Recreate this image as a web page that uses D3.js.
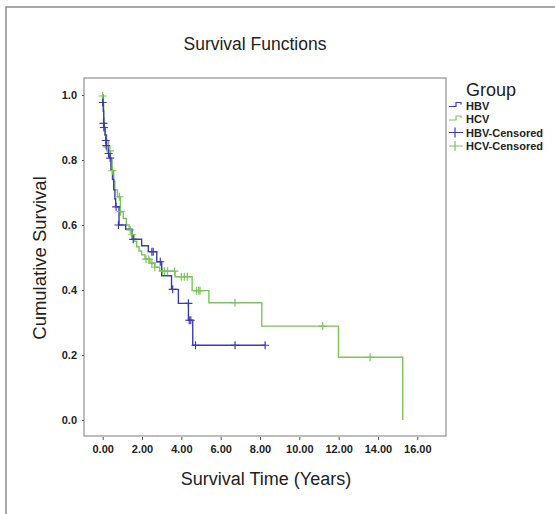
<!DOCTYPE html>
<html>
<head>
<meta charset="utf-8">
<script src="https://cdn.jsdelivr.net/npm/d3@7"></script>
<style>
  body { margin: 0; background: #fff; }
  svg { display: block; font-family: "Liberation Sans", Arial, Helvetica, sans-serif; }
</style>
</head>
<body>
<div></div>
<script>
// Kaplan-Meier step points: [time (years), cumulative survival after the drop]
var hbvSteps = [
  [0, 1.0], [0.01, 0.977], [0.03, 0.95], [0.05, 0.913], [0.08, 0.90], [0.12, 0.877],
  [0.17, 0.86], [0.2, 0.844], [0.28, 0.82], [0.35, 0.806], [0.42, 0.77], [0.5, 0.74],
  [0.56, 0.708], [0.62, 0.68], [0.66, 0.656], [0.83, 0.60], [1.17, 0.587], [1.5, 0.556],
  [1.98, 0.536], [2.32, 0.518], [2.75, 0.487], [3.0, 0.444], [3.5, 0.402], [3.85, 0.359],
  [4.36, 0.307], [4.58, 0.23], [8.26, 0.23]
];
var hcvSteps = [
  [0, 1.0], [0.02, 0.97], [0.05, 0.93], [0.08, 0.894], [0.12, 0.877], [0.2, 0.86],
  [0.3, 0.828], [0.4, 0.8], [0.48, 0.767], [0.56, 0.735], [0.62, 0.708], [0.75, 0.687],
  [0.9, 0.641], [1.05, 0.62], [1.2, 0.60], [1.35, 0.585], [1.5, 0.57], [1.6, 0.55],
  [1.73, 0.533], [1.85, 0.52], [1.98, 0.508], [2.15, 0.495], [2.4, 0.483], [2.65, 0.47],
  [2.9, 0.458], [3.68, 0.441], [4.55, 0.398], [5.4, 0.361], [8.09, 0.289], [11.99, 0.193],
  [15.26, 0.0]
];
// censored observations
var hbvCensored = [
  [0.0, 0.977], [0.04, 0.913], [0.06, 0.90], [0.15, 0.86], [0.18, 0.844], [0.3, 0.82],
  [0.38, 0.806], [0.68, 0.656], [0.8, 0.60], [1.55, 0.556], [2.5, 0.518], [2.57, 0.518],
  [2.93, 0.487], [3.56, 0.402], [4.36, 0.359], [4.4, 0.307], [4.48, 0.307],
  [4.72, 0.23], [6.73, 0.23], [8.26, 0.23]
];
var hcvCensored = [
  [0.0, 0.997], [0.23, 0.84], [0.37, 0.828], [0.49, 0.767], [0.85, 0.687], [0.91, 0.641],
  [1.4, 0.585], [1.5, 0.57], [2.2, 0.495], [2.35, 0.495], [2.5, 0.483], [2.65, 0.47],
  [3.05, 0.458], [3.15, 0.458], [3.3, 0.458], [3.65, 0.458], [4.0, 0.441], [4.15, 0.441],
  [4.3, 0.441], [4.78, 0.398], [4.88, 0.398], [4.95, 0.398], [6.73, 0.361], [11.19, 0.289],
  [13.6, 0.193]
];
var xTicks = [0, 2, 4, 6, 8, 10, 12, 14, 16];
var yTicks = [0, 0.2, 0.4, 0.6, 0.8, 1.0];
var groups = ["HBV", "HCV", "HBV-Censored", "HCV-Censored"];

var blue = "#3c3cb0", green = "#7dc35e";

var width = 555, height = 514;
var frame = {left: 84, right: 446, top: 78, bottom: 436};

var svg = d3.select("body").select("div").append("svg")
    .attr("width", width)
    .attr("height", height);

// outer border of the figure
svg.append("path")
    .attr("d", "M6,514 L6,7 L555,7")
    .attr("fill", "none")
    .attr("stroke", "#8a8a8a")
    .attr("stroke-width", 1.5);

var x = d3.scaleLinear().domain([0, 16]).range([102.7, 417.3]);
var y = d3.scaleLinear().domain([0, 1]).range([420, 95]);

// plot frame
svg.append("rect")
    .attr("x", frame.left)
    .attr("y", frame.top)
    .attr("width", frame.right - frame.left)
    .attr("height", frame.bottom - frame.top)
    .attr("fill", "none")
    .attr("stroke", "#7a7a7a")
    .attr("stroke-width", 1);

// axes
var yAxis = svg.append("g")
    .attr("transform", "translate(" + frame.left + ",0)")
    .call(d3.axisLeft(y).tickValues(yTicks).tickSize(2).tickPadding(5).tickFormat(d3.format(".1f")));
var xAxis = svg.append("g")
    .attr("transform", "translate(0," + (frame.bottom + 1) + ")")
    .call(d3.axisBottom(x).tickValues(xTicks).tickSize(3).tickPadding(5).tickFormat(d3.format(".2f")));

[xAxis, yAxis].forEach(function(g) {
  g.select(".domain").remove();
  g.selectAll("line").attr("stroke", "#555");
  g.selectAll("text")
      .style("font-family", "'Liberation Sans', Arial, sans-serif")
      .style("font-size", "11px")
      .style("font-weight", 700)
      .attr("fill", "#222");
});

// curves
var line = d3.line()
    .curve(d3.curveStepAfter)
    .x(function(d) { return x(d[0]); })
    .y(function(d) { return y(d[1]); });

svg.append("path")
    .datum(hcvSteps)
    .attr("d", line)
    .attr("fill", "none")
    .attr("stroke", green)
    .attr("stroke-width", 1.4);

svg.append("path")
    .datum(hbvSteps)
    .attr("d", line)
    .attr("fill", "none")
    .attr("stroke", blue)
    .attr("stroke-width", 1.4);

function crosses(data, color) {
  var g = svg.append("g").attr("stroke", color).attr("stroke-width", 1.2);
  g.selectAll("path")
      .data(data)
      .enter().append("path")
      .attr("d", function(d) {
        var cx = x(d[0]), cy = y(d[1]);
        return "M" + (cx - 4) + "," + cy + "H" + (cx + 4) + "M" + cx + "," + (cy - 4) + "V" + (cy + 4);
      });
}
crosses(hcvCensored, green);
crosses(hbvCensored, blue);

// titles
svg.append("text")
    .text("Survival Functions")
    .attr("x", 255)
    .attr("y", 50)
    .attr("text-anchor", "middle")
    .style("font-size", "17.5px")
    .attr("fill", "#222");

svg.append("text")
    .text("Cumulative Survival")
    .attr("transform", "translate(46,258) rotate(-90)")
    .attr("text-anchor", "middle")
    .style("font-size", "18.5px")
    .attr("fill", "#222");

svg.append("text")
    .text("Survival Time (Years)")
    .attr("x", 266)
    .attr("y", 485)
    .attr("text-anchor", "middle")
    .style("font-size", "18px")
    .attr("fill", "#222");

// legend
var legend = svg.append("g").attr("class", "legend");
legend.append("text")
    .text("Group")
    .attr("x", 466)
    .attr("y", 96)
    .style("font-size", "18px")
    .attr("fill", "#222");

var rowY = [105.5, 119, 132.5, 146];
groups.forEach(function(name, i) {
  var c = i % 2 === 0 ? blue : green;
  var cy = rowY[i];
  if (i < 2) {
    legend.append("path")
        .attr("d", "M449," + (cy + 1) + "H456V" + (cy - 3) + "H461V" + (cy - 1))
        .attr("fill", "none")
        .attr("stroke", c)
        .attr("stroke-width", 1.2);
  } else {
    legend.append("path")
        .attr("d", "M449," + cy + "H463M455," + (cy - 5) + "V" + (cy + 5))
        .attr("stroke", c)
        .attr("stroke-width", 1.2);
  }
  legend.append("text")
      .text(name)
      .attr("x", 466)
      .attr("y", cy + 4)
      .style("font-size", "11px")
      .style("font-weight", 700)
      .attr("fill", "#222");
});
</script>
</body>
</html>
